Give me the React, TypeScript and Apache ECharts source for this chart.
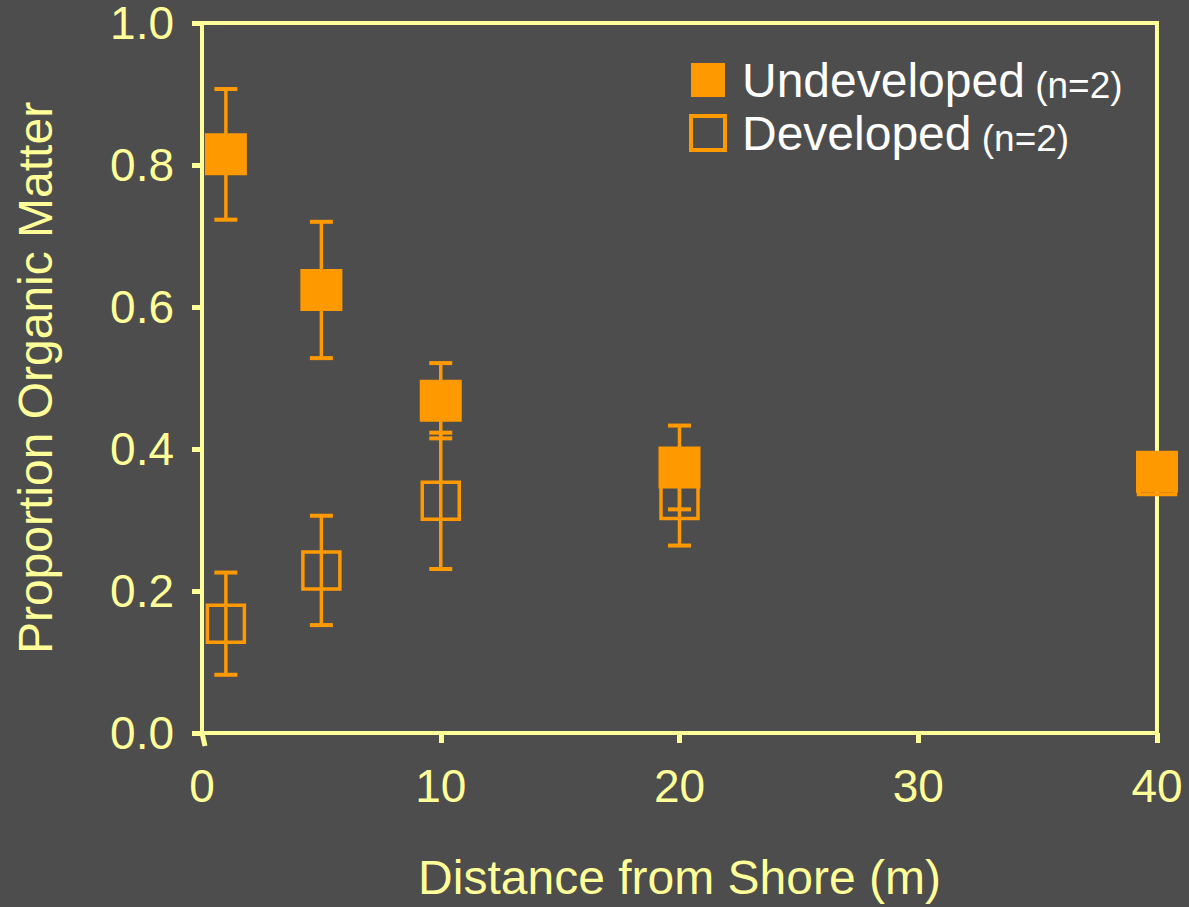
import React, { useEffect, useRef } from "react";
import * as echarts from "echarts";

const distances = [1, 5, 10, 20, 40];
const undevMean = [0.815, 0.624, 0.468, 0.374, 0.368];
const undevErr = [0.092, 0.096, 0.053, 0.059, 0.01];
const devMean = [0.154, 0.229, 0.327, 0.328, 0.362];
const devErr = [0.072, 0.077, 0.096, 0.064, 0.01];
const xTicks = [0, 10, 20, 30, 40];
const yTicks = [0, 0.2, 0.4, 0.6, 0.8, 1.0];
const legendNames = ["Undeveloped", "Developed"];
const sampleNote = "(n=2)";

const ORANGE = "#ff9900";
const YELLOW = "#ffff99";
const BG = "#4d4d4d";
const FONT = "Liberation Sans, Arial, sans-serif";

function errRender(params: any, api: any) {
  const x = api.value(0);
  const m = api.value(1);
  const e = api.value(2);
  const top = api.coord([x, m + e]);
  const bot = api.coord([x, m - e]);
  const hw = 11.5;
  const st = { stroke: ORANGE, lineWidth: 3.5 };
  return {
    type: "group",
    children: [
      { type: "line", shape: { x1: top[0], y1: top[1], x2: bot[0], y2: bot[1] }, style: st },
      { type: "line", shape: { x1: top[0] - hw, y1: top[1], x2: top[0] + hw, y2: top[1] }, style: { ...st, lineWidth: 4 } },
      { type: "line", shape: { x1: bot[0] - hw, y1: bot[1], x2: bot[0] + hw, y2: bot[1] }, style: { ...st, lineWidth: 4 } },
    ],
  };
}

export default function App() {
  const ref = useRef<HTMLDivElement>(null);
  useEffect(() => {
    document.body.style.margin = "0";
    const chart = echarts.init(ref.current!, null, { renderer: "svg" });
    const undevPts = distances.map((d, i) => [d, undevMean[i]]);
    const devPts = distances.map((d, i) => [d, devMean[i]]);
    const undevErrData = distances.map((d, i) => [d, undevMean[i], undevErr[i]]);
    const devErrData = distances.map((d, i) => [d, devMean[i], devErr[i]]);
    chart.setOption({
      animation: false,
      backgroundColor: BG,
      textStyle: { fontFamily: FONT },
      grid: {
        left: 202,
        right: 32,
        top: 23,
        bottom: 174,
        show: true,
        borderColor: YELLOW,
        borderWidth: 4,
        backgroundColor: "transparent",
      },
      legend: {
        orient: "vertical",
        left: 689,
        top: 56,
        padding: 0,
        itemGap: 5,
        itemWidth: 34,
        itemHeight: 34,
        formatter: (name: string) => `{a|${name}}{b| ${sampleNote}}`,
        textStyle: {
          color: "#ffffff",
          rich: {
            a: { fontSize: 48, lineHeight: 48, color: "#ffffff", fontFamily: FONT, padding: [0, 0, 0, 12], verticalAlign: "bottom" },
            b: { fontSize: 37, lineHeight: 37, color: "#ffffff", fontFamily: FONT, verticalAlign: "bottom" },
          },
        },
        data: [
          { name: legendNames[0], icon: "rect", itemStyle: { color: ORANGE, borderWidth: 0 } },
          { name: legendNames[1], icon: "rect", itemStyle: { color: BG, borderColor: ORANGE, borderWidth: 4 } },
        ],
      },
      xAxis: {
        type: "value",
        min: 0,
        max: 40,
        interval: 10,
        name: "Distance from Shore (m)",
        nameLocation: "middle",
        nameGap: 120,
        nameTextStyle: { color: YELLOW, fontSize: 48, fontFamily: FONT },
        splitLine: { show: false },
        axisLine: { show: true, lineStyle: { color: YELLOW, width: 4 } },
        axisTick: { show: true, length: 10, lineStyle: { color: YELLOW, width: 5 }, customValues: xTicks.slice(1) },
        axisLabel: { color: YELLOW, fontSize: 46, margin: 30, fontFamily: FONT, customValues: xTicks },
      },
      yAxis: {
        type: "value",
        min: 0,
        max: 1,
        interval: 0.2,
        name: "Proportion Organic Matter",
        nameLocation: "middle",
        nameGap: 143,
        nameTextStyle: { color: YELLOW, fontSize: 48, fontFamily: FONT },
        splitLine: { show: false },
        axisLine: { show: true, lineStyle: { color: YELLOW, width: 4 } },
        axisTick: { show: true, length: 10, lineStyle: { color: YELLOW, width: 5 }, customValues: yTicks },
        axisLabel: {
          color: YELLOW,
          fontSize: 46,
          lineHeight: 36,
          margin: 28,
          fontFamily: FONT,
          customValues: yTicks,
          formatter: (v: number) => v.toFixed(1),
        },
      },
      graphic: [
        {
          type: "line",
          shape: { x1: 202, y1: 733, x2: 205, y2: 746 },
          style: { stroke: YELLOW, lineWidth: 5 },
          z: 10,
        },
      ],
      series: [
        {
          name: "Developed error",
          type: "custom",
          renderItem: errRender,
          data: devErrData,
          z: 1,
        },
        {
          name: legendNames[1],
          type: "scatter",
          data: devPts,
          symbol: "rect",
          symbolSize: 37,
          itemStyle: { color: "rgba(0,0,0,0)", borderColor: ORANGE, borderWidth: 3.5, opacity: 1 },
          z: 2,
        },
        {
          name: "Undeveloped error",
          type: "custom",
          renderItem: errRender,
          data: undevErrData,
          z: 3,
        },
        {
          name: legendNames[0],
          type: "scatter",
          data: undevPts,
          symbol: "rect",
          symbolSize: 42,
          itemStyle: { color: ORANGE, opacity: 1 },
          z: 4,
        },
      ],
    });
    return () => chart.dispose();
  }, []);
  return <div ref={ref} style={{ width: 1189, height: 907 }} />;
}
